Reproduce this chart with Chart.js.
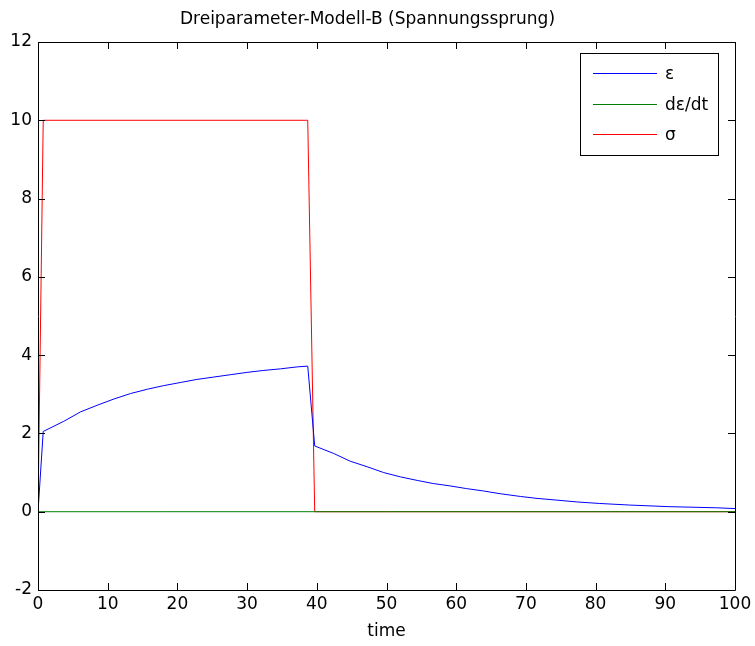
<!DOCTYPE html>
<html>
<head>
<meta charset="utf-8">
<script src="https://cdn.jsdelivr.net/npm/chart.js@4/dist/chart.umd.min.js"></script>
<style>
  html, body { margin: 0; padding: 0; background: #fff; }
  #c { display: block; }
</style>
</head>
<body>
<canvas id="c" width="755" height="646"></canvas>
<script>
// ---- data ----
const titleText = 'Dreiparameter-Modell-B (Spannungssprung)';
const xLabel = 'time';
const seriesNames = ['ε', 'dε/dt', 'σ'];

const epsT = [0, 0.75, 3.7, 6.1, 8.5, 10.9, 13.3, 15.7, 18.0, 20.4, 22.8, 25.2, 27.6, 30.0, 32.4, 34.8, 37.2, 38.7,
              39.7, 42.4, 44.8, 47.2, 49.6, 52.0, 54.4, 56.7, 59.1, 61.5, 63.9, 66.3, 69.2, 71.6, 74.2, 77.3, 80.6, 84.9, 90.4, 97.4, 100];
const epsV = [0, 2.05, 2.31, 2.55, 2.72, 2.88, 3.02, 3.13, 3.22, 3.30, 3.38, 3.44, 3.50, 3.56, 3.61, 3.65, 3.70, 3.72,
              1.68, 1.49, 1.29, 1.15, 1.00, 0.89, 0.80, 0.72, 0.66, 0.59, 0.53, 0.46, 0.39, 0.34, 0.30, 0.25, 0.21, 0.17, 0.13, 0.10, 0.08];

const dEpsT = [0, 100];
const dEpsV = [0, 0];

const sigmaT = [0, 0.75, 38.7, 39.7, 100];
const sigmaV = [0, 10, 10, 0, 0];

const xTicks = [0, 10, 20, 30, 40, 50, 60, 70, 80, 90, 100];
const yTicks = [-2, 0, 2, 4, 6, 8, 10, 12];

const colors = ['#0000ff', '#008000', '#ff0000'];

const toPts = (t, v) => t.map((x, i) => ({ x: x, y: v[i] }));

const FONT = "'DejaVu Sans', 'Liberation Sans', sans-serif";

// box + inward ticks on all four sides (MATLAB style)
const boxPlugin = {
  id: 'boxTicks',
  afterDatasetsDraw(chart) {
    const { ctx, chartArea: a, scales } = chart;
    const len = 7;
    ctx.save();
    ctx.strokeStyle = '#000';
    ctx.lineWidth = 1;
    ctx.beginPath();
    ctx.rect(Math.round(a.left) + 0.5, Math.round(a.top) + 0.5,
             Math.round(a.right - a.left), Math.round(a.bottom - a.top));
    xTicks.forEach(v => {
      const x = Math.round(scales.x.getPixelForValue(v)) + 0.5;
      ctx.moveTo(x, a.bottom); ctx.lineTo(x, a.bottom - len);
      ctx.moveTo(x, a.top); ctx.lineTo(x, a.top + len);
    });
    yTicks.forEach(v => {
      const y = Math.round(scales.y.getPixelForValue(v)) + 0.5;
      ctx.moveTo(a.left, y); ctx.lineTo(a.left + len, y);
      ctx.moveTo(a.right, y); ctx.lineTo(a.right - len, y);
    });
    ctx.stroke();
    ctx.restore();
  }
};

// boxed legend in the upper right corner
const legendPlugin = {
  id: 'boxLegend',
  afterDraw(chart) {
    const { ctx } = chart;
    const bx = 580.5, by = 53.5, bw = 138, bh = 102;
    ctx.save();
    ctx.fillStyle = '#fff';
    ctx.fillRect(bx, by, bw, bh);
    ctx.strokeStyle = '#000';
    ctx.lineWidth = 1;
    ctx.strokeRect(bx, by, bw, bh);
    ctx.font = '17px ' + FONT;
    ctx.textBaseline = 'middle';
    ctx.textAlign = 'left';
    chart.data.datasets.forEach((ds, i) => {
      const y = Math.round(73 + i * 30.5) + 0.5;
      ctx.strokeStyle = ds.borderColor;
      ctx.beginPath();
      ctx.moveTo(593, y); ctx.lineTo(657, y);
      ctx.stroke();
      ctx.fillStyle = '#000';
      ctx.fillText(ds.label, 665, y + 1);
    });
    ctx.restore();
  }
};

new Chart(document.getElementById('c'), {
  type: 'line',
  data: {
    datasets: [
      { label: seriesNames[0], data: toPts(epsT, epsV), borderColor: colors[0] },
      { label: seriesNames[1], data: toPts(dEpsT, dEpsV), borderColor: colors[1] },
      { label: seriesNames[2], data: toPts(sigmaT, sigmaV), borderColor: colors[2] }
    ]
  },
  options: {
    responsive: false,
    animation: false,
    layout: { padding: { left: 0, right: 20, top: 0, bottom: 0 } },
    elements: {
      line: { borderWidth: 1, tension: 0, fill: false },
      point: { radius: 0, hoverRadius: 0 }
    },
    plugins: {
      legend: { display: false },
      tooltip: { enabled: false },
      title: {
        display: true,
        text: titleText,
        color: '#000',
        font: { family: FONT, size: 17, weight: 'normal' },
        padding: { top: 9, bottom: 12.6 }
      }
    },
    scales: {
      x: {
        type: 'linear',
        min: 0, max: 100,
        afterBuildTicks: s => { s.ticks = xTicks.map(v => ({ value: v })); },
        afterFit: s => { s.height = 56; s.paddingLeft = 0; s.paddingRight = 0; },
        grid: { display: false, drawTicks: false },
        border: { display: false },
        ticks: { color: '#000', padding: 4, maxRotation: 0, font: { family: FONT, size: 17 } },
        title: {
          display: true, text: xLabel, color: '#000',
          font: { family: FONT, size: 17 },
          padding: { top: 0, bottom: 4 }
        }
      },
      y: {
        type: 'linear',
        min: -2, max: 12,
        afterBuildTicks: s => { s.ticks = yTicks.map(v => ({ value: v })); },
        afterFit: s => { s.width = 38; s.paddingTop = 0; s.paddingBottom = 0; },
        grid: { display: false, drawTicks: false },
        border: { display: false },
        ticks: { color: '#000', padding: 6, font: { family: FONT, size: 17 } }
      }
    }
  },
  plugins: [boxPlugin, legendPlugin]
});
</script>
</body>
</html>
